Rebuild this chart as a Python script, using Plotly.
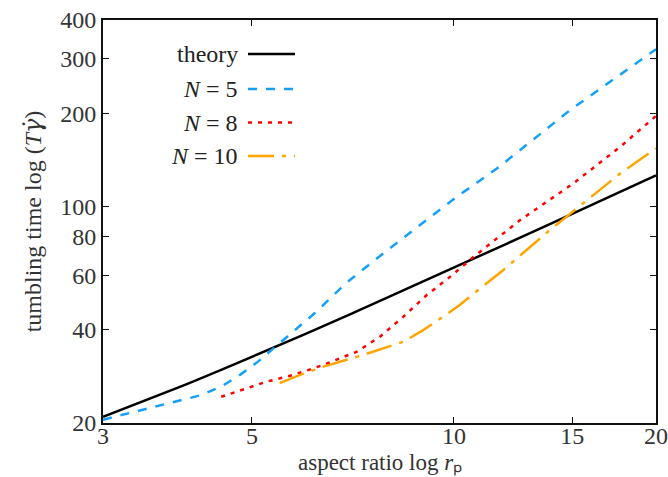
import plotly.graph_objects as go

# theory
r_theory = [3, 3.5, 4, 4.5, 5, 6, 7, 8, 9, 10, 12, 14, 16, 18, 20]
T_theory = [20.94, 23.79, 26.70, 29.67, 32.67, 38.75, 44.88, 51.05, 57.25, 63.46,
            75.92, 88.41, 100.92, 113.45, 125.98]

# N = 5
r_n5 = [3, 3.5, 3.9, 4.2, 4.5, 4.8, 5.1, 5.45, 6.2, 6.9, 7.9, 8.9, 10.1, 11.6, 13.1, 14.9, 20]
T_n5 = [20.5, 22.3, 23.7, 24.6, 26.2, 28.6, 31.5, 35.7, 45.2, 56.5, 71.4, 87.1, 107.5, 132.8,
        163.9, 204.8, 322]

# N = 8
r_n8 = [4.5, 4.86, 5.26, 5.77, 6.39, 7.17, 7.76, 8.41, 9.11, 9.87, 10.7, 12.55, 15.07, 17.7, 20]
T_n8 = [24.3, 25.7, 27.2, 28.6, 30.8, 34.0, 38.0, 44.1, 51.8, 59.3, 68.8, 90.4, 118.8, 156.0, 196]

# N = 10
r_n10 = [5.5, 5.9, 6.39, 7.33, 8.41, 9.0, 9.64, 10.2, 10.94, 11.85, 13.9, 15.8, 17.7, 20]
T_n10 = [26.9, 28.6, 30.4, 33.2, 36.6, 39.9, 44.1, 48.1, 54.4, 62.4, 84.0, 104.9, 127.9, 154]

x_ticks = [3, 5, 10, 15, 20]
y_ticks = [20, 40, 60, 80, 100, 200, 300, 400]

FONT = "Liberation Serif"
FS = 24
BLUE = "#14A0FA"
RED = "#FF0000"
ORANGE = "#FFA500"

fig = go.Figure()
fig.add_trace(go.Scatter(x=r_theory, y=T_theory, mode="lines", showlegend=False,
                         line=dict(color="black", width=2.5)))
fig.add_trace(go.Scatter(x=r_n5, y=T_n5, mode="lines", showlegend=False,
                         line=dict(color=BLUE, width=2.5, dash="9px,9px")))
fig.add_trace(go.Scatter(x=r_n8, y=T_n8, mode="lines", showlegend=False,
                         line=dict(color=RED, width=2.5, dash="4px,6px")))
fig.add_trace(go.Scatter(x=r_n10, y=T_n10, mode="lines", showlegend=False,
                         line=dict(color=ORANGE, width=2.5, dash="26px,8px,4px,8px")))

# manual legend (label on the left, sample line on the right)
legend_items = [("theory", "black", "solid"),
                ("<i>N</i> = 5", BLUE, "9px,9px"),
                ("<i>N</i> = 8", RED, "4px,6px"),
                ("<i>N</i> = 10", ORANGE, "26px,8px,4px,8px")]
W, H = 668, 477
L, R, T, B = 103, 12, 20, 54
pw, ph = W - L - R, H - T - B
ys = [54, 89, 122.5, 156]
for (lab, col, dash), yp in zip(legend_items, ys):
    yy = 1 - (yp - T) / ph
    x0 = (248 - L) / pw
    x1 = (295 - L) / pw
    fig.add_shape(type="line", xref="paper", yref="paper", x0=x0, x1=x1, y0=yy, y1=yy,
                  line=dict(color=col, width=2.5, dash=dash))
    fig.add_annotation(xref="paper", yref="paper", x=(240 - L) / pw, y=yy, text=lab,
                       showarrow=False, xanchor="right", yanchor="middle",
                       font=dict(family=FONT, size=FS, color="#222"))

# x-axis title as an annotation placed at the bottom edge
fig.add_annotation(xref="paper", yref="paper", x=0.5, y=-(H - T - ph) / ph,
                   text="aspect ratio log <i>r</i>ₚ", showarrow=False,
                   xanchor="center", yanchor="bottom", borderpad=0,
                   font=dict(family=FONT, size=23, color="#333"))

axis_common = dict(type="log", showgrid=False, zeroline=False, showline=True,
                   linecolor="#111", linewidth=2, mirror="ticks", ticks="inside",
                   ticklen=6, tickwidth=1.2, tickcolor="#111", automargin=False,
                   tickfont=dict(family=FONT, size=FS, color="#333"))

fig.update_xaxes(range=[0.47712, 1.30103], tickvals=x_ticks,
                 ticktext=[str(v) for v in x_ticks], ticklabelstandoff=-10,
                 **axis_common)
fig.update_yaxes(range=[1.30103, 2.60206], tickvals=y_ticks,
                 ticktext=[str(v) for v in y_ticks],
                 title=dict(text="tumbling time log (<i>T</i><span style='font-family:DejaVu Serif'><i>γ̇</i></span>)",
                            font=dict(family=FONT, size=FS, color="#333"), standoff=12),
                 **axis_common)

fig.update_layout(width=W, height=H, margin=dict(l=L, r=R, t=T, b=B),
                  plot_bgcolor="white", paper_bgcolor="white", showlegend=False)

fig.write_html("out.html")
